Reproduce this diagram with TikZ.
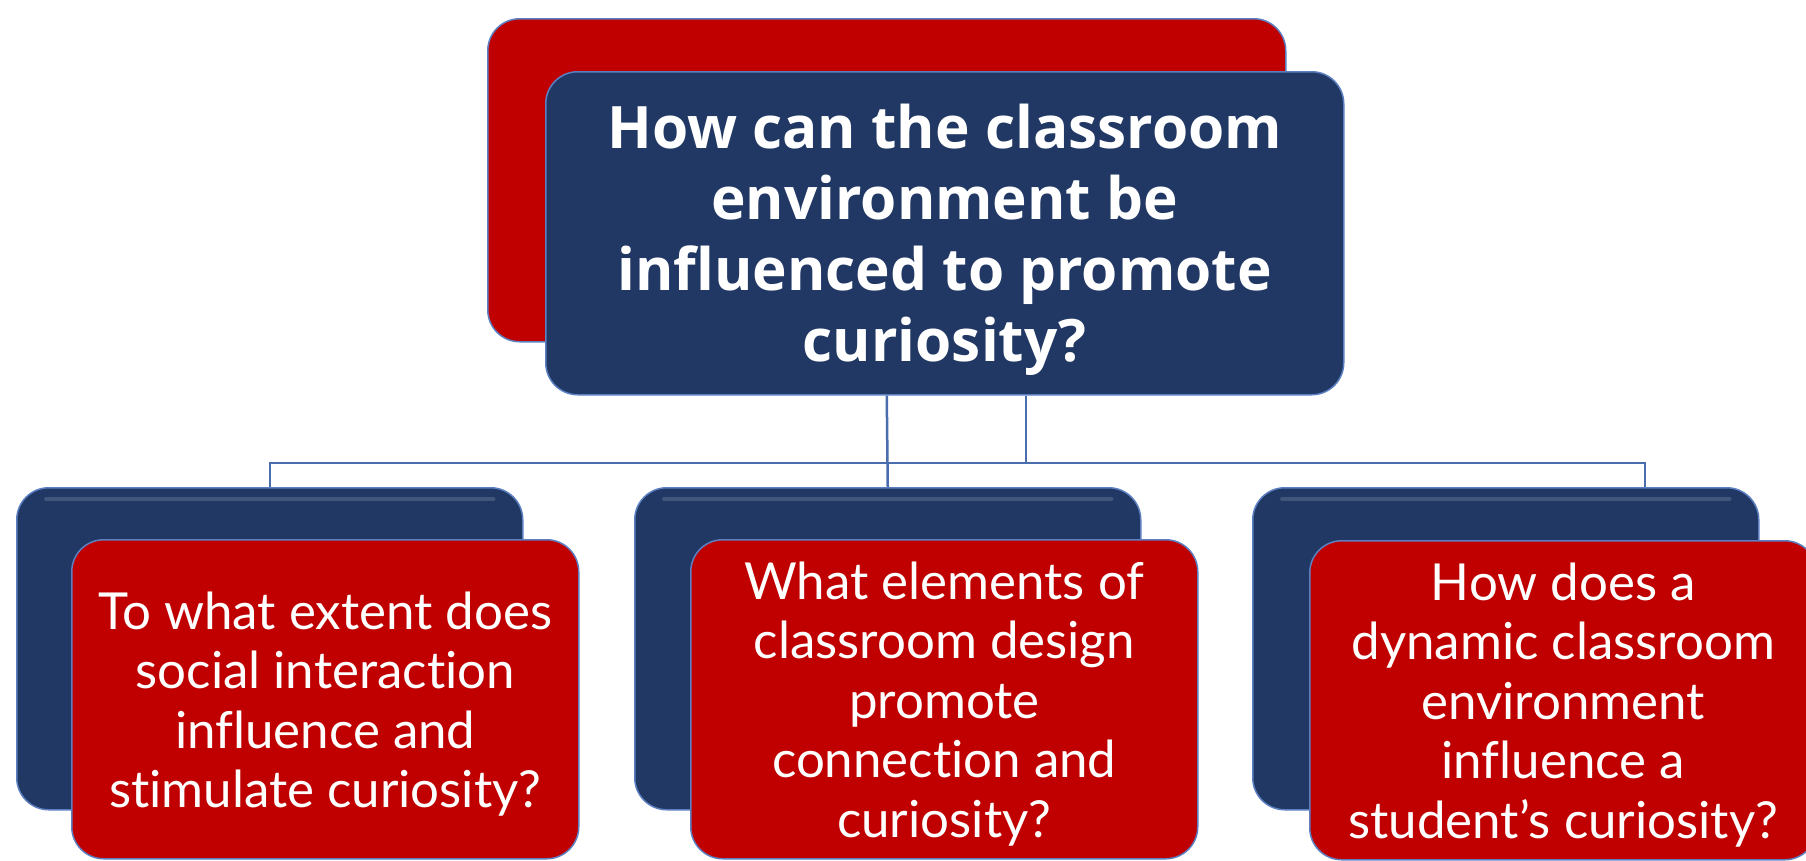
\documentclass[tikz,border=0pt]{standalone}
\usepackage{fontspec}
\setmainfont[Ligatures=NoCommon]{Lato}
\newfontfamily\topfont[Ligatures=NoCommon]{Open Sans}
\definecolor{cred}{HTML}{C00000}
\definecolor{cblue}{HTML}{213864}
\definecolor{cline}{HTML}{4A6DAE}
\definecolor{cedge}{HTML}{5B7FC0}
\newcommand\mytopstrut{\rule{0pt}{58pt}}
\newcommand\mysubstrut{\rule{0pt}{47pt}}
\begin{document}
\begin{tikzpicture}[x=1pt,y=-1pt,
  box/.style={rounded corners=32pt, anchor=north west, inner sep=0pt, draw=cedge, line width=1.5pt, text=white, align=center},
  redbox/.style={box, fill=cred},
  bluebox/.style={box, fill=cblue},
  topsize/.style={minimum width=798pt, minimum height=323pt},
  backsize/.style={minimum width=506pt, minimum height=322pt},
  frontsize/.style={minimum width=507pt, minimum height=319pt},
  toptext/.style={font=\topfont\bfseries\fontsize{58.5}{71}\selectfont},
  subtext/.style={font=\fontsize{51}{59.5}\selectfont},
  conn/.style={draw=cline, line width=2.5pt},
  shine/.style={draw=white, opacity=0.15, line width=4pt, line cap=round}
]
\useasboundingbox (0,0) rectangle (1806,860);
\fill[white] (0,0) rectangle (1806,860);
\clip (0,0) rectangle (1806,860);

% top pair
\node[redbox, topsize] (topB) at (487,18) {};
\node[bluebox, topsize, toptext] (topF) at (545,71)
  {\mytopstrut How can the classroom\\environment be\\influenced to promote\\curiosity?};

% bottom back boxes
\node[bluebox, backsize] (leftB) at (16,487) {};
\node[bluebox, backsize] (midB) at (634,487) {};
\node[bluebox, backsize] (rightB) at (1252,487) {};
\draw[shine] ([xshift=30pt,yshift=-12pt]leftB.north west) -- ([xshift=-30pt,yshift=-12pt]leftB.north east);
\draw[shine] ([xshift=30pt,yshift=-12pt]midB.north west) -- ([xshift=-30pt,yshift=-12pt]midB.north east);
\draw[shine] ([xshift=30pt,yshift=-12pt]rightB.north west) -- ([xshift=-30pt,yshift=-12pt]rightB.north east);

% bottom front boxes
\node[redbox, frontsize, subtext] (leftF) at (71,539)
  {\mysubstrut To what extent does\\social interaction\\influence and\\stimulate curiosity?};
\node[redbox, frontsize, subtext] (midF) at (690,539)
  {\mysubstrut What elements of\\classroom design\\promote\\connection and\\curiosity?};
\node[redbox, frontsize, subtext] (rightF) at (1309,540)
  {\mysubstrut How does a\\dynamic classroom\\environment\\influence a\\student’s curiosity?};

% connectors
\coordinate (j) at (1026,463);
\coordinate (rdrop) at (1645,487);
\draw[conn] (topF.south -| topB.south) -- (midB.north);
\draw[conn] (topF.south -| j) -- (j);
\draw[conn] (leftB.north) |- (rdrop |- j) -- (rdrop);
\end{tikzpicture}
\end{document}
